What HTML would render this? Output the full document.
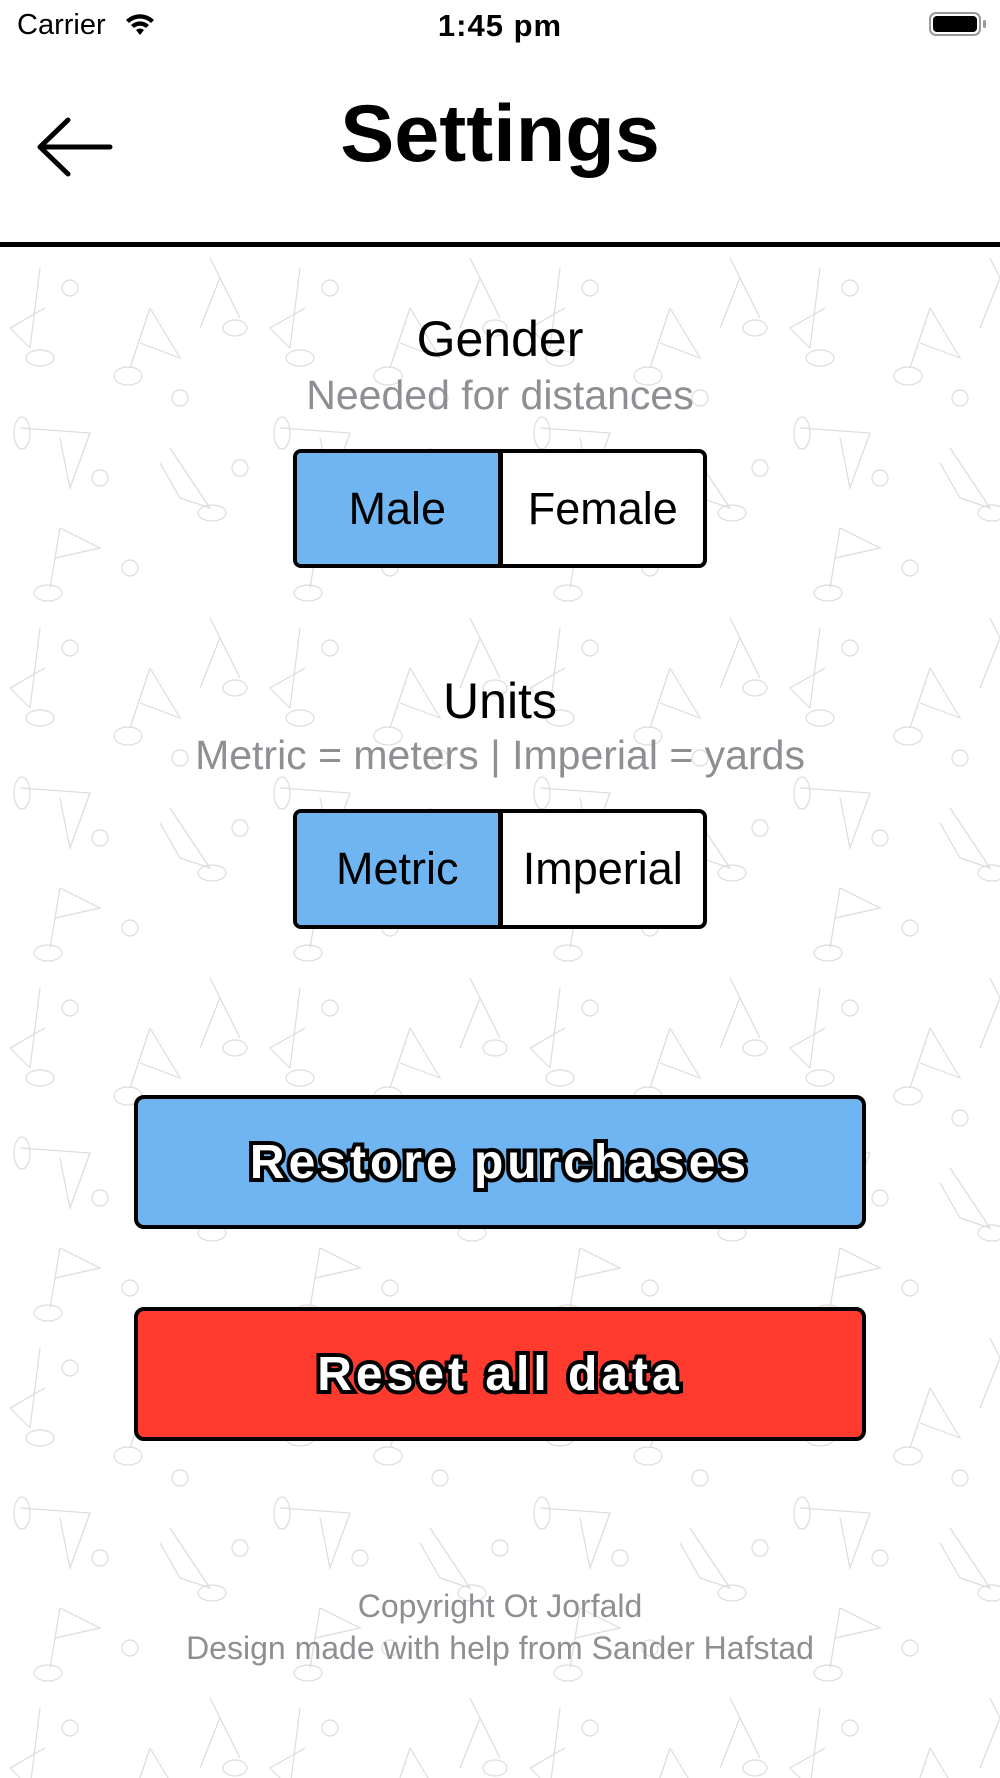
<!DOCTYPE html>
<html><head><meta charset="utf-8"><style>
*{margin:0;padding:0;box-sizing:border-box}
body{width:1000px;height:1778px;position:relative;background:#fff;font-family:"Liberation Sans",sans-serif;overflow:hidden}
.abs{position:absolute}
.c{position:absolute;left:0;width:1000px;text-align:center;white-space:nowrap}
.seg{position:absolute;left:293px;width:414px;border:4px solid #000;border-radius:8px;display:flex;overflow:hidden;background:#fff}
.seg div{flex:1;display:flex;align-items:center;justify-content:center;font-size:45px;color:#000}
.seg div:first-child{background:#6fb5f1;border-right:5px solid #000}
.btn{position:absolute;left:134px;width:732px;height:134px;border:4px solid #000;border-radius:10px;display:flex;align-items:center;justify-content:center}
.btn span{font-size:48px;font-weight:bold;color:#fff;-webkit-text-stroke:8px #000;paint-order:stroke fill;letter-spacing:4px}
</style></head><body>
<svg class="abs" style="left:0;top:248px" width="1000" height="1530">
<defs><pattern id="p" width="260" height="360" patternUnits="userSpaceOnUse">
<g fill="none" stroke="#dcdcdc" stroke-width="1.2">
<path d="M40 20 L30 100 L10 80 L45 60"/><ellipse cx="40" cy="110" rx="14" ry="8"/><circle cx="70" cy="40" r="8"/>
<path d="M150 60 L130 120 M150 60 L180 110 L140 95"/><ellipse cx="128" cy="128" rx="14" ry="9"/><circle cx="180" cy="150" r="8"/>
<path d="M210 10 L240 70 L220 30 L200 80"/><ellipse cx="235" cy="80" rx="12" ry="8"/>
<path d="M20 180 L90 185 L70 240 L60 190"/><ellipse cx="22" cy="185" rx="8" ry="16"/><circle cx="100" cy="230" r="8"/>
<path d="M170 200 L210 260 L180 250 L160 215"/><ellipse cx="212" cy="265" rx="14" ry="8"/><circle cx="240" cy="220" r="8"/>
<path d="M60 280 L50 340 M60 280 L100 300 L55 310"/><ellipse cx="48" cy="345" rx="14" ry="8"/><circle cx="130" cy="320" r="8"/>
</g></pattern></defs>
<rect width="1000" height="1530" fill="url(#p)"/>
</svg>
<div class="abs" style="left:17px;top:9px;font-size:29px">Carrier</div>
<svg class="abs" style="left:124px;top:12px" width="32" height="24" viewBox="0 0 32 24"><path d="M2 8 A20 20 0 0 1 30 8 L27 11 A16 16 0 0 0 5 11Z M7 13 A13 13 0 0 1 25 13 L22 16 A9 9 0 0 0 10 16Z M12 18 A6 6 0 0 1 20 18 L16 23Z" fill="#000"/></svg>
<div class="c" style="top:8px;font-size:31px;font-weight:bold;letter-spacing:1px">1:45 pm</div>
<div class="abs" style="left:929px;top:12px;width:52px;height:24px;border:2px solid #999;border-radius:7px;padding:2px"><div style="background:#000;width:100%;height:100%;border-radius:4px"></div></div>
<div class="abs" style="left:983px;top:20px;width:3px;height:8px;background:#999;border-radius:2px"></div>
<svg class="abs" style="left:36px;top:116px" width="78" height="62"><path d="M4 31 H74 M32 4 L4 31 L32 58" fill="none" stroke="#000" stroke-width="5" stroke-linecap="round" stroke-linejoin="round"/></svg>
<div class="c" style="top:88px;font-size:81px;font-weight:bold">Settings</div>
<div class="abs" style="left:0;top:242px;width:1000px;height:5px;background:#000"></div>
<div class="c" style="top:310px;font-size:50px">Gender</div>
<div class="c" style="top:372px;font-size:41px;color:#8e8e93">Needed for distances</div>
<div class="seg" style="top:449px;height:119px"><div>Male</div><div>Female</div></div>
<div class="c" style="top:672px;font-size:50px">Units</div>
<div class="c" style="top:732px;font-size:41px;color:#8e8e93">Metric = meters | Imperial = yards</div>
<div class="seg" style="top:809px;height:120px"><div>Metric</div><div>Imperial</div></div>
<div class="btn" style="top:1095px;background:#6fb5f1"><span>Restore purchases</span></div>
<div class="btn" style="top:1307px;background:#ff3b30"><span>Reset all data</span></div>
<div class="c" style="top:1588px;font-size:32px;color:#8e8e93">Copyright Ot Jorfald</div>
<div class="c" style="top:1630px;font-size:32px;color:#8e8e93">Design made with help from Sander Hafstad</div>
</body></html>
